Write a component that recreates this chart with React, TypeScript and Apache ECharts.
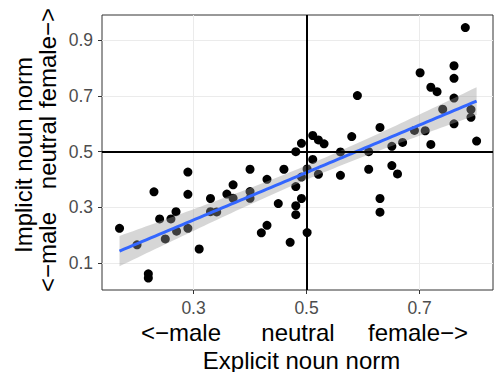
import React, { useEffect, useRef } from "react";
import * as echarts from "echarts";

// Explicit (x) and implicit (y) noun norms
const explicitNorm = [
  0.169, 0.2, 0.22, 0.22, 0.23, 0.29, 0.29, 0.24, 0.26, 0.269, 0.25, 0.27, 0.29, 0.31,
  0.33, 0.33, 0.341, 0.359, 0.37, 0.37, 0.4, 0.4, 0.4, 0.43, 0.46, 0.45, 0.43, 0.42,
  0.471, 0.481, 0.481, 0.481, 0.481, 0.491, 0.491, 0.501, 0.501, 0.491, 0.511, 0.521,
  0.531, 0.511, 0.521, 0.56, 0.56, 0.58, 0.59, 0.61, 0.61, 0.63, 0.651, 0.651, 0.661,
  0.63, 0.63, 0.67, 0.691, 0.71, 0.72, 0.701, 0.72, 0.731, 0.741, 0.761, 0.761, 0.761,
  0.761, 0.781, 0.791, 0.791, 0.801,
];
const implicitNorm = [
  0.225, 0.166, 0.062, 0.047, 0.356, 0.427, 0.347, 0.259, 0.259, 0.285, 0.187, 0.215,
  0.225, 0.151, 0.332, 0.285, 0.284, 0.348, 0.381, 0.333, 0.437, 0.357, 0.333, 0.401,
  0.437, 0.314, 0.236, 0.209, 0.175, 0.5, 0.375, 0.306, 0.274, 0.409, 0.332, 0.21,
  0.438, 0.53, 0.558, 0.542, 0.528, 0.472, 0.419, 0.499, 0.415, 0.554, 0.701, 0.5,
  0.437, 0.587, 0.519, 0.45, 0.42, 0.332, 0.283, 0.533, 0.576, 0.575, 0.526, 0.783,
  0.731, 0.715, 0.652, 0.808, 0.763, 0.692, 0.6, 0.945, 0.651, 0.623, 0.538,
];
const tickValues = [0.1, 0.3, 0.5, 0.7, 0.9];
const xRange = [0.138, 0.83];
const yRange = [0.004, 0.99];
const refValue = 0.5;
const xSideLabels = ["<\u2212male", "neutral", "female\u2212>"];
const xTitle = "Explicit noun norm";
const yTitle = "Implicit noun norm";

function linearFit(xs: number[], ys: number[]) {
  const n = xs.length;
  const mx = xs.reduce((a, b) => a + b, 0) / n;
  const my = ys.reduce((a, b) => a + b, 0) / n;
  let sxx = 0;
  let sxy = 0;
  for (let i = 0; i < n; i++) {
    sxx += (xs[i] - mx) ** 2;
    sxy += (xs[i] - mx) * (ys[i] - my);
  }
  const b = sxy / sxx;
  const a = my - b * mx;
  let sse = 0;
  for (let i = 0; i < n; i++) sse += (ys[i] - (a + b * xs[i])) ** 2;
  const s = Math.sqrt(sse / (n - 2));
  const t = 1.995;
  const lo = Math.min(...xs);
  const hi = Math.max(...xs);
  const line: number[][] = [];
  const upper: number[][] = [];
  const lower: number[][] = [];
  const steps = 80;
  for (let i = 0; i <= steps; i++) {
    const x = lo + ((hi - lo) * i) / steps;
    const yh = a + b * x;
    const se = s * Math.sqrt(1 / n + (x - mx) ** 2 / sxx);
    line.push([x, yh]);
    upper.push([x, yh + t * se]);
    lower.push([x, yh - t * se]);
  }
  return { line, upper, lower };
}

export default function App() {
  const ref = useRef<HTMLDivElement>(null);
  useEffect(() => {
    if (!ref.current) return;
    const chart = echarts.init(ref.current, undefined, { renderer: "svg" });
    const fit = linearFit(explicitNorm, implicitNorm);
    const points = explicitNorm.map((x, i) => [x, implicitNorm[i]]);
    const font = "Liberation Sans";
    const titleSize = 24;
    const axisCommon = {
      minInterval: 0.1,
      maxInterval: 0.1,
      axisLine: { show: false },
      axisTick: {
        show: true,
        customValues: tickValues,
        length: 4,
        lineStyle: { color: "#333333", width: 1 },
      },
      axisLabel: {
        customValues: tickValues,
        formatter: (v: number) => v.toFixed(1),
        color: "#4d4d4d",
        fontSize: 17.5,
        fontFamily: font,
        margin: 9,
      },
      splitLine: { show: true, lineStyle: { color: "#ebebeb", width: 1 } },
    };
    const txt = (text: string, x: number, y: number, rotated: boolean) => ({
      type: "text",
      x,
      y,
      rotation: rotated ? Math.PI / 2 : 0,
      style: {
        text,
        fontSize: titleSize,
        fontFamily: font,
        fill: "#000",
        align: "center",
        verticalAlign: "middle",
      },
    });
    chart.setOption({
      animation: false,
      backgroundColor: "#ffffff",
      grid: {
        left: 102,
        right: 1,
        top: 15,
        bottom: 82,
        show: true,
        borderColor: "#333333",
        borderWidth: 1,
        backgroundColor: "transparent",
        containLabel: false,
        outerBoundsMode: "none",
      },
      xAxis: {
        type: "value",
        min: xRange[0],
        max: xRange[1],
        splitNumber: 7,
        ...axisCommon,
      },
      yAxis: {
        type: "value",
        min: yRange[0],
        max: yRange[1],
        splitNumber: 10,
        ...axisCommon,
      },
      series: [
        {
          type: "scatter",
          data: points,
          symbolSize: 9,
          itemStyle: { color: "#000000", opacity: 1 },
          z: 2,
          silent: true,
        },
        {
          type: "custom",
          data: [[refValue, refValue]],
          z: 3,
          silent: true,
          renderItem: (_params: any, api: any) => {
            const pts = [
              ...fit.upper.map((p) => api.coord(p)),
              ...fit.lower
                .slice()
                .reverse()
                .map((p) => api.coord(p)),
            ];
            return {
              type: "polygon",
              shape: { points: pts },
              style: { fill: "rgba(153,153,153,0.4)", stroke: "none" },
            };
          },
        },
        {
          type: "line",
          data: fit.line,
          showSymbol: false,
          lineStyle: { color: "#3366FF", width: 3 },
          z: 4,
          silent: true,
        },
        {
          type: "line",
          data: [],
          z: 5,
          silent: true,
          markLine: {
            silent: true,
            symbol: "none",
            label: { show: false },
            lineStyle: { color: "#000000", width: 2, type: "solid" },
            data: [{ xAxis: refValue }, { yAxis: refValue }],
          },
        },
      ],
      graphic: [
        txt(xSideLabels[0], 181, 332.5, false),
        txt(xSideLabels[1], 298, 332.5, false),
        txt(xSideLabels[2], 418, 332.5, false),
        txt(xTitle, 301.5, 360, false),
        txt(yTitle, 23, 155, true),
        txt(xSideLabels[0], 47.5, 252, true),
        txt(xSideLabels[1], 47.5, 152.5, true),
        txt(xSideLabels[2], 47.5, 58, true),
      ],
    });
    return () => chart.dispose();
  }, []);
  return (
    <div
      ref={ref}
      style={{ position: "absolute", left: 0, top: 0, width: 494, height: 372 }}
    />
  );
}
